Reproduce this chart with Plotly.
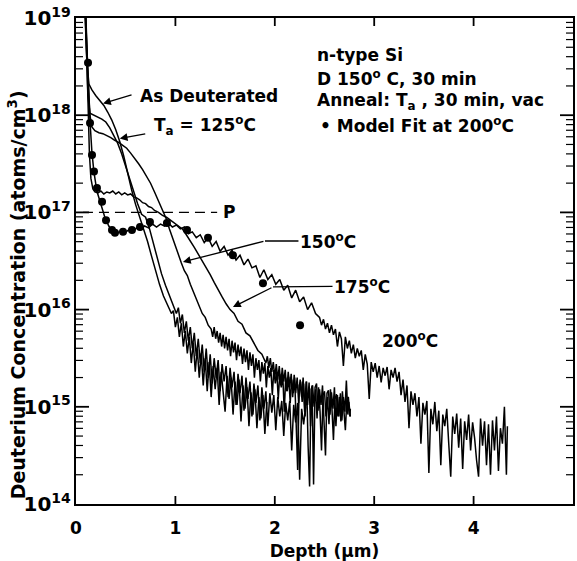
import math
import plotly.graph_objects as go

# ---------------- data (depth in um, log10 of D concentration in atoms/cm^3) ----------------
AS_DEUT = [(0.08, 19.3), (0.095, 18.9), (0.11, 18.55), (0.13, 18.32), (0.16, 18.26), (0.20, 18.2),
           (0.24, 18.15), (0.28, 18.1), (0.32, 18.03), (0.36, 17.95), (0.40, 17.85), (0.44, 17.73),
           (0.48, 17.58), (0.52, 17.40), (0.56, 17.23), (0.60, 17.08), (0.64, 16.96), (0.68, 16.84),
           (0.72, 16.70), (0.76, 16.55), (0.80, 16.39), (0.84, 16.26), (0.88, 16.14), (0.92, 16.04),
           (0.96, 15.96), (0.98, 15.99), (1.00, 15.82), (1.02, 15.92), (1.04, 15.72), (1.06, 15.86),
           (1.08, 15.62), (1.10, 15.78), (1.12, 15.55), (1.14, 15.72), (1.16, 15.45), (1.18, 15.66),
           (1.20, 15.36), (1.22, 15.60), (1.24, 15.30), (1.26, 15.55), (1.28, 15.22), (1.30, 15.50),
           (1.32, 15.16), (1.34, 15.46), (1.36, 15.10), (1.38, 15.42), (1.40, 15.18), (1.42, 15.40),
           (1.44, 15.02), (1.46, 15.36), (1.48, 15.12), (1.50, 14.95), (1.52, 15.32), (1.54, 15.08),
           (1.56, 15.30), (1.58, 14.92), (1.60, 15.26), (1.62, 15.02), (1.64, 15.28), (1.66, 14.85),
           (1.68, 15.22), (1.70, 14.98), (1.72, 15.20), (1.74, 14.80), (1.76, 15.15), (1.78, 14.92),
           (1.80, 15.18), (1.82, 14.78), (1.84, 15.10), (1.86, 14.88), (1.88, 15.12), (1.90, 14.72),
           (1.92, 15.05)]

T125 = [(0.085, 19.3), (0.10, 18.7), (0.12, 18.2), (0.14, 18.02), (0.18, 18.0), (0.22, 17.98),
        (0.26, 17.96), (0.30, 17.93), (0.34, 17.87), (0.38, 17.79), (0.42, 17.71), (0.46, 17.60),
        (0.50, 17.47), (0.54, 17.34), (0.58, 17.21), (0.62, 17.09), (0.66, 16.98), (0.70, 16.95),
        (0.74, 16.83), (0.78, 16.67), (0.82, 16.51), (0.86, 16.37), (0.90, 16.25), (0.94, 16.15),
        (0.98, 16.05), (1.01, 15.96), (1.03, 16.02), (1.05, 15.86), (1.07, 15.95), (1.09, 15.76),
        (1.11, 15.88), (1.13, 15.68), (1.15, 15.82), (1.17, 15.60), (1.19, 15.76), (1.21, 15.52),
        (1.23, 15.70), (1.25, 15.45), (1.27, 15.64), (1.29, 15.36), (1.31, 15.60), (1.33, 15.30),
        (1.35, 15.54), (1.37, 15.24), (1.39, 15.50), (1.41, 15.30), (1.43, 15.48), (1.45, 15.16),
        (1.47, 15.44), (1.49, 15.26), (1.51, 15.42), (1.53, 15.10), (1.55, 15.40), (1.57, 15.20),
        (1.59, 15.36), (1.61, 15.02), (1.63, 15.34), (1.65, 15.14), (1.67, 15.32), (1.69, 14.96),
        (1.71, 15.30), (1.73, 15.08), (1.75, 15.26), (1.77, 14.90), (1.79, 15.24), (1.81, 15.04),
        (1.83, 15.22), (1.85, 14.86), (1.87, 15.20), (1.89, 14.98), (1.91, 15.16), (1.93, 14.80),
        (1.95, 15.14), (1.97, 14.94), (1.99, 15.12), (2.01, 14.76), (2.03, 15.10), (2.05, 14.90),
        (2.07, 15.06), (2.09, 14.70), (2.11, 15.04), (2.13, 14.86), (2.15, 15.06), (2.17, 14.55),
        (2.19, 15.02), (2.21, 14.84), (2.23, 15.04), (2.25, 14.25), (2.27, 14.98), (2.29, 14.82),
        (2.31, 15.00)]

T150 = [(0.09, 19.3), (0.105, 18.8), (0.12, 18.4), (0.14, 18.0), (0.16, 17.88), (0.19, 17.84),
        (0.23, 17.82), (0.27, 17.81), (0.31, 17.79), (0.35, 17.77), (0.39, 17.74), (0.43, 17.72),
        (0.47, 17.69), (0.51, 17.66), (0.55, 17.61), (0.59, 17.56), (0.63, 17.50), (0.67, 17.44),
        (0.71, 17.37), (0.75, 17.30), (0.79, 17.21), (0.83, 17.12), (0.87, 17.03), (0.91, 16.93),
        (0.94, 16.83), (0.97, 16.74), (1.00, 16.64), (1.03, 16.55), (1.06, 16.48), (1.09, 16.40),
        (1.12, 16.35), (1.15, 16.26), (1.18, 16.18), (1.21, 16.10), (1.24, 16.04), (1.27, 15.96),
        (1.30, 15.92), (1.33, 15.84), (1.36, 15.80), (1.375, 15.72), (1.39, 15.82), (1.405, 15.70),
        (1.42, 15.78), (1.435, 15.66), (1.45, 15.76), (1.465, 15.62), (1.48, 15.74), (1.495, 15.60),
        (1.51, 15.72), (1.525, 15.58), (1.54, 15.70), (1.555, 15.52), (1.57, 15.68), (1.585, 15.56),
        (1.60, 15.66), (1.615, 15.48), (1.63, 15.64), (1.645, 15.52), (1.66, 15.62), (1.675, 15.44),
        (1.69, 15.60), (1.705, 15.46), (1.72, 15.58), (1.735, 15.38), (1.75, 15.56), (1.765, 15.42),
        (1.78, 15.54), (1.795, 15.30), (1.81, 15.50), (1.825, 15.38), (1.84, 15.48), (1.855, 15.26),
        (1.87, 15.46), (1.885, 15.34), (1.90, 15.45), (1.915, 15.20), (1.93, 15.42), (1.945, 15.30),
        (1.96, 15.40), (1.975, 15.12), (1.99, 15.38), (2.005, 15.24), (2.02, 15.36), (2.035, 15.08),
        (2.05, 15.34), (2.065, 15.20), (2.08, 15.33), (2.095, 14.95), (2.11, 15.30), (2.125, 15.16),
        (2.14, 15.31), (2.155, 15.04), (2.17, 15.28), (2.185, 15.14), (2.20, 15.30), (2.215, 14.85),
        (2.23, 14.35), (2.245, 15.22), (2.26, 15.26), (2.275, 15.05), (2.29, 15.24), (2.305, 14.90),
        (2.32, 15.26), (2.335, 14.60), (2.35, 14.18), (2.365, 15.18), (2.38, 15.22), (2.395, 15.00),
        (2.41, 15.18), (2.425, 14.88), (2.44, 15.20), (2.455, 14.95), (2.47, 14.55), (2.485, 15.12),
        (2.50, 15.16), (2.515, 14.90), (2.53, 15.10), (2.545, 14.82), (2.56, 15.18), (2.575, 14.98),
        (2.59, 14.66), (2.605, 15.08), (2.62, 15.13), (2.635, 14.90), (2.65, 15.10), (2.665, 14.85),
        (2.68, 15.16), (2.695, 14.96), (2.71, 14.76), (2.725, 15.08), (2.74, 15.10), (2.755, 14.90),
        (2.76, 14.98)]

T175 = [(0.09, 19.3), (0.105, 18.7), (0.12, 18.1), (0.135, 17.6), (0.15, 17.35), (0.17, 17.24),
        (0.19, 17.21), (0.22, 17.20), (0.25, 17.22), (0.28, 17.19), (0.31, 17.21), (0.34, 17.20),
        (0.37, 17.22), (0.40, 17.19), (0.43, 17.21), (0.46, 17.18), (0.49, 17.20), (0.52, 17.18),
        (0.55, 17.19), (0.58, 17.16), (0.61, 17.15), (0.64, 17.13), (0.67, 17.10), (0.70, 17.09),
        (0.73, 17.06), (0.76, 17.05), (0.79, 17.02), (0.83, 17.00), (0.87, 16.97), (0.91, 16.95),
        (0.95, 16.92), (0.99, 16.89), (1.03, 16.86), (1.07, 16.83), (1.11, 16.77), (1.15, 16.71),
        (1.19, 16.64), (1.23, 16.57), (1.27, 16.50), (1.31, 16.44), (1.35, 16.36), (1.39, 16.28),
        (1.43, 16.20), (1.47, 16.13), (1.51, 16.06), (1.55, 16.00), (1.59, 15.96), (1.63, 15.88),
        (1.67, 15.85), (1.71, 15.76), (1.75, 15.73), (1.79, 15.65), (1.83, 15.58), (1.87, 15.54),
        (1.91, 15.45), (1.925, 15.52), (1.94, 15.40), (1.955, 15.50), (1.97, 15.36), (1.985, 15.46),
        (2.00, 15.30), (2.015, 15.44), (2.03, 15.28), (2.045, 15.42), (2.06, 15.22), (2.075, 15.40),
        (2.09, 15.26), (2.105, 15.38), (2.12, 15.16), (2.135, 15.36), (2.15, 15.20), (2.165, 15.34),
        (2.18, 15.10), (2.195, 15.33), (2.21, 15.14), (2.225, 15.30), (2.24, 15.04), (2.255, 15.28),
        (2.27, 15.10), (2.285, 15.30), (2.30, 14.95), (2.315, 15.26), (2.33, 15.02), (2.345, 15.25),
        (2.36, 14.80), (2.375, 15.22), (2.39, 14.20), (2.405, 15.20), (2.42, 15.24), (2.435, 14.96),
        (2.45, 15.18), (2.465, 15.02), (2.48, 15.22), (2.495, 14.85), (2.51, 14.50), (2.525, 15.14),
        (2.54, 15.17), (2.555, 14.92), (2.57, 15.15), (2.585, 14.98), (2.60, 15.20), (2.615, 14.80),
        (2.63, 15.12), (2.645, 14.90), (2.66, 15.14), (2.675, 14.86), (2.69, 15.10), (2.705, 14.95),
        (2.72, 15.27), (2.735, 14.92), (2.745, 15.05), (2.76, 14.90)]

T200 = [(0.085, 19.3), (0.10, 18.9), (0.12, 18.5), (0.14, 17.95), (0.16, 17.62), (0.18, 17.42),
        (0.21, 17.22), (0.25, 17.08), (0.29, 16.95), (0.33, 16.86), (0.37, 16.80), (0.41, 16.78),
        (0.45, 16.81), (0.49, 16.79), (0.53, 16.82), (0.57, 16.80), (0.61, 16.84), (0.65, 16.82),
        (0.69, 16.86), (0.73, 16.84), (0.77, 16.88), (0.81, 16.85), (0.85, 16.88), (0.89, 16.86),
        (0.93, 16.89), (0.97, 16.85), (1.01, 16.87), (1.05, 16.83), (1.09, 16.85), (1.13, 16.78),
        (1.17, 16.80), (1.21, 16.74), (1.25, 16.77), (1.29, 16.69), (1.33, 16.74), (1.37, 16.65),
        (1.41, 16.70), (1.45, 16.60), (1.49, 16.65), (1.53, 16.56), (1.57, 16.61), (1.61, 16.51),
        (1.65, 16.56), (1.69, 16.46), (1.73, 16.52), (1.77, 16.43), (1.81, 16.45), (1.85, 16.33),
        (1.89, 16.41), (1.93, 16.31), (1.97, 16.36), (2.01, 16.26), (2.05, 16.31), (2.09, 16.20),
        (2.13, 16.25), (2.17, 16.12), (2.21, 16.20), (2.25, 16.08), (2.29, 16.13), (2.33, 16.00),
        (2.37, 16.07), (2.41, 15.96), (2.45, 15.92), (2.47, 15.84), (2.49, 15.90), (2.51, 15.80),
        (2.53, 15.86), (2.55, 15.76), (2.57, 15.84), (2.59, 15.74), (2.61, 15.80), (2.63, 15.62),
        (2.65, 15.77), (2.67, 15.70), (2.69, 15.42), (2.71, 15.72), (2.73, 15.60), (2.75, 15.68),
        (2.77, 15.55), (2.79, 15.64), (2.81, 15.50), (2.83, 15.60), (2.85, 15.52), (2.87, 15.58),
        (2.89, 15.38), (2.91, 15.54), (2.93, 15.44), (2.95, 15.08), (2.97, 15.46), (2.99, 15.36),
        (3.01, 15.45), (3.03, 15.30), (3.05, 15.42), (3.07, 15.25), (3.09, 15.40), (3.11, 15.32),
        (3.13, 15.41), (3.15, 15.18), (3.17, 15.38), (3.19, 15.30), (3.21, 15.40), (3.23, 15.26),
        (3.25, 15.36), (3.27, 15.12), (3.29, 15.28), (3.31, 15.05), (3.33, 15.22), (3.35, 14.78),
        (3.37, 15.16), (3.39, 15.02), (3.41, 15.14), (3.43, 14.90), (3.45, 15.10), (3.47, 14.62),
        (3.49, 15.04), (3.51, 14.92), (3.53, 15.06), (3.55, 14.32), (3.57, 14.98), (3.59, 14.82),
        (3.61, 15.05), (3.63, 14.75), (3.65, 14.96), (3.67, 14.40), (3.69, 14.92), (3.71, 14.80),
        (3.73, 14.98), (3.75, 14.62), (3.77, 14.28), (3.79, 14.90), (3.81, 14.72), (3.83, 14.93),
        (3.85, 14.58), (3.87, 14.88), (3.89, 14.36), (3.91, 14.85), (3.93, 14.66), (3.95, 14.92),
        (3.97, 14.55), (3.99, 14.84), (4.01, 14.68), (4.03, 14.45), (4.05, 14.28), (4.07, 14.88),
        (4.09, 14.60), (4.11, 14.85), (4.13, 14.40), (4.15, 14.82), (4.17, 14.30), (4.19, 14.86),
        (4.21, 14.55), (4.23, 14.90), (4.25, 14.34), (4.27, 14.78), (4.29, 14.62), (4.31, 15.00),
        (4.33, 14.30), (4.34, 14.80)]

MODEL_FIT_200 = [(0.121, 18.54), (0.141, 17.92), (0.161, 17.59), (0.181, 17.42), (0.211, 17.25),
                 (0.262, 17.11), (0.302, 16.92), (0.362, 16.82), (0.392, 16.79), (0.473, 16.80),
                 (0.563, 16.82), (0.644, 16.85), (0.744, 16.90), (0.915, 16.89), (1.117, 16.82),
                 (1.328, 16.74), (1.579, 16.56), (1.881, 16.27), (2.254, 15.84)]

P_LEVEL_X = [0.07, 1.42]
P_LEVEL = 1e17

X_TICKS = [0, 1, 2, 3, 4, 5]
X_RANGE = [0, 5]
Y_DECADES = [14, 15, 16, 17, 18, 19]

BLACK = "black"
FONT = "DejaVu Sans"

W, H = 577, 561
M_L, M_R, M_T, M_B = 76, 4, 18, 57
PLOT_W = W - M_L - M_R
PLOT_H = H - M_T - M_B

fig = go.Figure()


def add_curve(pairs):
    xs = [p[0] for p in pairs]
    ys = [10 ** p[1] for p in pairs]
    fig.add_trace(go.Scatter(x=xs, y=ys, mode="lines",
                             line=dict(color=BLACK, width=1.5), hoverinfo="skip"))


for curve in (AS_DEUT, T125, T150, T175, T200):
    add_curve(curve)

fig.add_trace(go.Scatter(x=P_LEVEL_X, y=[P_LEVEL, P_LEVEL], mode="lines",
                         line=dict(color=BLACK, width=1.4, dash="10px,6px"), hoverinfo="skip"))

fig.add_trace(go.Scatter(x=[p[0] for p in MODEL_FIT_200], y=[10 ** p[1] for p in MODEL_FIT_200],
                         mode="markers", marker=dict(color=BLACK, size=8), hoverinfo="skip"))

afont = dict(family=FONT, size=17, color=BLACK, weight="bold")
annotations = []


def text(x, y, s, xanchor="left"):
    annotations.append(dict(x=x, y=y, xref="x", yref="y", text=s, showarrow=False,
                            xanchor=xanchor, yanchor="middle", font=afont))


def arrow(x, y, ax, ay, head=2, s=""):
    annotations.append(dict(x=x, y=y, xref="x", yref="y", text=s, showarrow=True,
                            ax=ax, ay=ay, arrowhead=head, arrowsize=1.2, arrowwidth=1.3,
                            arrowcolor=BLACK, standoff=0, font=afont))


# labels with arrows
text(0.62, 18.20, "As Deuterated")
arrow(0.272, 18.12, 30, -9)
text(0.765, 17.89, "T<sub>a</sub> = 125<sup>o</sup>C")
arrow(0.44, 17.76, 27, -5)
text(1.54, 17.0, "P", xanchor="center")
arrow(1.901, 16.706, 63, 0, head=0, s="150<sup>o</sup>C")
arrow(1.076, 16.49, 82, -21)
arrow(1.982, 16.233, 89, -1, head=0, s="175<sup>o</sup>C")
arrow(1.579, 16.027, 40, -20)
text(3.36, 15.69, "200<sup>o</sup>C", xanchor="center")

# info block
text(2.40, 18.62, "n-type Si")
text(2.40, 18.38, "D 150<sup>o</sup> C, 30 min")
text(2.40, 18.14, "Anneal: T<sub>a</sub> , 30 min, vac")
text(2.43, 17.90, "• Model Fit at 200<sup>o</sup>C")

# y-axis title as a rotated annotation (placed like the reference)
annotations.append(dict(x=-0.118, y=0.43, xref="paper", yref="paper", textangle=-90,
                        text="Deuterium Concentration (atoms/cm<sup>3</sup>)", showarrow=False,
                        xanchor="center", yanchor="middle",
                        font=dict(family=FONT, size=19, color=BLACK, weight="bold")))

# ---- inward tick marks on all four sides, as paper-referenced line shapes ----
shapes = []


def seg(x0, y0, x1, y1, width):
    shapes.append(dict(type="line", xref="paper", yref="paper", x0=x0, y0=y0, x1=x1, y1=y1,
                       line=dict(color=BLACK, width=width), layer="above"))


x_len = 8 / PLOT_H          # x-tick length as a fraction of plot height
y_major = 13 / PLOT_W       # y-tick lengths as fractions of plot width
y_minor = 7 / PLOT_W
span_x = X_RANGE[1] - X_RANGE[0]
span_y = Y_DECADES[-1] - Y_DECADES[0]

for xv in X_TICKS[1:-1]:
    fx = (xv - X_RANGE[0]) / span_x
    seg(fx, 0, fx, x_len, 1.8)
    seg(fx, 1, fx, 1 - x_len, 1.8)

for dec in Y_DECADES:
    fy = (dec - Y_DECADES[0]) / span_y
    if 0 < fy < 1:
        seg(0, fy, y_major, fy, 1.8)
        seg(1, fy, 1 - y_major, fy, 1.8)
    if dec < Y_DECADES[-1]:
        for k in range(2, 10):
            fm = (dec + math.log10(k) - Y_DECADES[0]) / span_y
            seg(0, fm, y_minor, fm, 1.2)
            seg(1, fm, 1 - y_minor, fm, 1.2)

tickfont = dict(family=FONT, size=16, color=BLACK, weight="bold")

fig.update_layout(
    width=W, height=H,
    margin=dict(l=M_L, r=M_R, t=M_T, b=M_B),
    paper_bgcolor="white", plot_bgcolor="white",
    showlegend=False,
    font=dict(family=FONT, color=BLACK),
    annotations=annotations,
    shapes=shapes,
    xaxis=dict(range=X_RANGE, tickmode="array", tickvals=X_TICKS,
               ticks="outside", ticklen=8, tickwidth=1, tickcolor="rgba(0,0,0,0)",
               mirror=True, showline=True, linewidth=2, linecolor=BLACK,
               showgrid=False, zeroline=False, tickfont=dict(tickfont, size=17), automargin=False,
               title=dict(text="Depth (μm)", font=dict(family=FONT, size=17, color=BLACK, weight="bold"),
                          standoff=14)),
    yaxis=dict(type="log", range=[Y_DECADES[0], Y_DECADES[-1]], dtick=1,
               exponentformat="power", showexponent="all",
               ticks="", mirror=True, showline=True, linewidth=2, linecolor=BLACK,
               showgrid=False, zeroline=False, tickfont=tickfont, automargin=False),
)

fig.write_html("out.html", post_script="document.body.style.margin='0px';",
               config={"displayModeBar": False})
